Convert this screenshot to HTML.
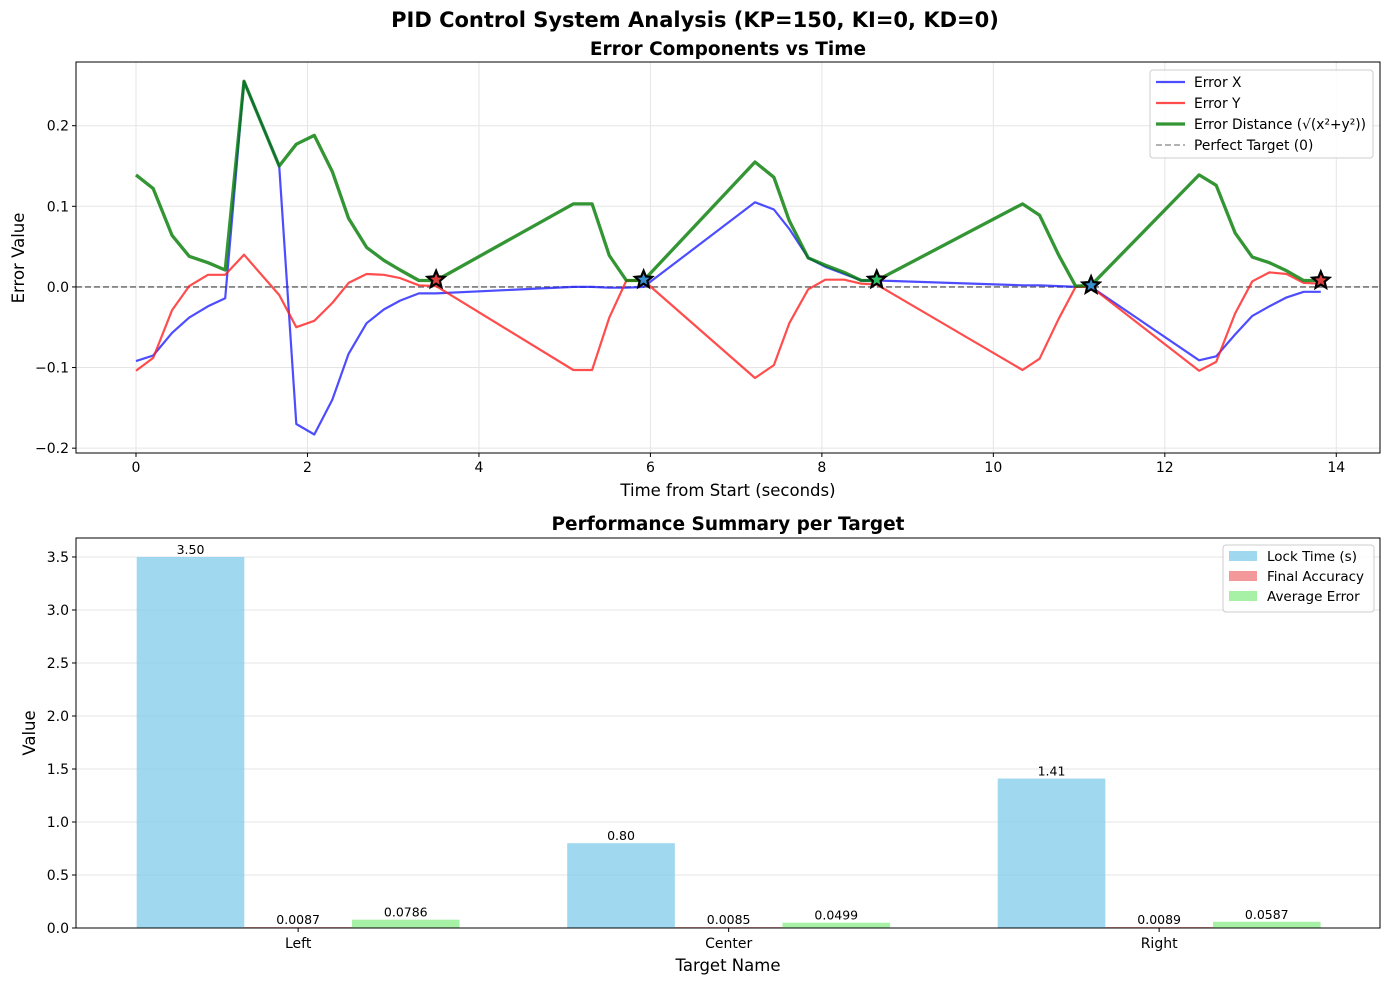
<!DOCTYPE html>
<html><head><meta charset="utf-8"><style>
body{margin:0;background:#fff;}
svg{font-family:"DejaVu Sans","Liberation Sans",sans-serif;}
</style></head><body>
<svg id="fig" width="1390" height="985" xmlns="http://www.w3.org/2000/svg">
<text x="695" y="27" text-anchor="middle" font-size="21" font-weight="bold">PID Control System Analysis (KP=150, KI=0, KD=0)</text>
<text x="728" y="55" text-anchor="middle" font-size="18.5" font-weight="bold">Error Components vs Time</text>
<text x="728" y="530" text-anchor="middle" font-size="18.5" font-weight="bold">Performance Summary per Target</text>
<g id="topchart"></g><g id="botchart"></g>
</svg>
<script>
const times=[0,0.2,0.42,0.62,0.84,1.04,1.26,1.67,1.87,2.08,2.29,2.48,2.69,2.89,3.08,3.3,3.5,5.1,5.32,5.52,5.72,5.92,7.22,7.44,7.62,7.84,8.04,8.26,8.46,8.64,10.34,10.54,10.76,10.96,11.14,12.4,12.6,12.82,13.02,13.22,13.42,13.62,13.82];
const errX=[-0.092,-0.085,-0.057,-0.038,-0.024,-0.014,0.255,0.150,-0.170,-0.183,-0.140,-0.083,-0.045,-0.028,-0.017,-0.008,-0.008,0.000,0.000,-0.001,-0.001,0.000,0.105,0.096,0.072,0.036,0.025,0.016,0.008,0.008,0.002,0.002,0.001,0.000,0.000,-0.091,-0.086,-0.059,-0.036,-0.024,-0.013,-0.006,-0.006];
const errY=[-0.104,-0.088,-0.029,0.001,0.015,0.015,0.040,-0.010,-0.050,-0.042,-0.020,0.005,0.016,0.015,0.011,0.002,0.001,-0.103,-0.103,-0.038,0.008,0.008,-0.113,-0.097,-0.045,-0.003,0.009,0.009,0.004,0.003,-0.103,-0.089,-0.040,0.000,0.000,-0.104,-0.093,-0.033,0.007,0.018,0.016,0.005,0.004];
const errD=[0.139,0.122,0.064,0.038,0.030,0.021,0.255,0.150,0.177,0.188,0.143,0.085,0.049,0.033,0.021,0.008,0.008,0.103,0.103,0.039,0.008,0.008,0.155,0.136,0.082,0.036,0.027,0.018,0.008,0.008,0.103,0.089,0.040,0.001,0.002,0.139,0.126,0.067,0.037,0.030,0.020,0.008,0.008];
const lockTimes=[3.5,5.92,8.64,11.14,13.82];
const lockVals=[0.009,0.009,0.009,0.002,0.008];
const lockColors=["#e04040","#3a8fd0","#30c060","#3a8fd0","#e04040"];
const xTicks=[0,2,4,6,8,10,12,14];
const yTicks=[-0.2,-0.1,0.0,0.1,0.2];
const targets=["Left","Center","Right"];
const lockTime=[3.50,0.80,1.41];
const finalAcc=[0.0087,0.0085,0.0089];
const avgErr=[0.0786,0.0499,0.0587];
const yTicks2=[0,0.5,1.0,1.5,2.0,2.5,3.0,3.5];
const NS="http://www.w3.org/2000/svg";
function mk(p,t,a,txt){const e=document.createElementNS(NS,t);for(const k in a)e.setAttribute(k,a[k]);if(txt!==undefined)e.textContent=txt;p.appendChild(e);return e;}
const T={l:76,r:1380,t:62,b:453,x0:-0.70,x1:14.51,y0:-0.206,y1:0.279};
const tx=v=>T.l+(v-T.x0)/(T.x1-T.x0)*(T.r-T.l);
const ty=v=>T.b-(v-T.y0)/(T.y1-T.y0)*(T.b-T.t);
const topG=document.getElementById('topchart');
xTicks.forEach(v=>{const x=tx(v);
 let g=mk(topG,'line',{x1:x,x2:x,y1:T.t,y2:T.b,stroke:'#e5e5e5','stroke-width':1});
 
 mk(topG,'line',{x1:x,x2:x,y1:T.b,y2:T.b+4,stroke:'#000'});
 let l=mk(topG,'text',{x:x,y:T.b+19,'text-anchor':'middle','font-size':14},String(v));
 });
yTicks.forEach(v=>{const y=ty(v);
 let g=mk(topG,'line',{x1:T.l,x2:T.r,y1:y,y2:y,stroke:'#e5e5e5','stroke-width':1});
 
 mk(topG,'line',{x1:T.l-4,x2:T.l,y1:y,y2:y,stroke:'#000'});
 let l=mk(topG,'text',{x:T.l-7,y:y+5,'text-anchor':'end','font-size':14},(v<0?'\u2212':'')+Math.abs(v).toFixed(1));
 });
let zl=mk(topG,'line',{x1:T.l,x2:T.r,y1:ty(0),y2:ty(0),stroke:'#000','stroke-opacity':0.5,'stroke-width':1.6,'stroke-dasharray':'6,3'});

function series(arr,color,w,name){const pts=times.map((t,i)=>tx(t).toFixed(1)+','+ty(arr[i]).toFixed(1)).join(' ');
 const p=mk(topG,'polyline',{points:pts,fill:'none',stroke:color,'stroke-width':w,'stroke-opacity':0.8,'stroke-linejoin':'round'});
 }
series(errX,'#2020ff',2.2,'error-x-line');
series(errY,'#ff2020',2.2,'error-y-line');
series(errD,'#007a00',3.3,'error-distance-line');
function starPts(cx,cy,R,r){let s=[];for(let i=0;i<10;i++){const a=-Math.PI/2+i*Math.PI/5;const rr=i%2?r:R;s.push((cx+rr*Math.cos(a)).toFixed(1)+','+(cy+rr*Math.sin(a)).toFixed(1));}return s.join(' ');}
lockTimes.forEach((t,i)=>{const s=mk(topG,'polygon',{points:starPts(tx(t),ty(lockVals[i]),9,4),fill:lockColors[i],stroke:'#000','stroke-width':2.2,'stroke-linejoin':'miter'});
 });
mk(topG,'rect',{x:T.l,y:T.t,width:T.r-T.l,height:T.b-T.t,fill:'none',stroke:'#000','stroke-width':1});
let xt=mk(topG,'text',{x:728,y:496,'text-anchor':'middle','font-size':16.5},'Time from Start (seconds)');

let yt=mk(topG,'text',{x:24,y:258,'text-anchor':'middle','font-size':16.5,transform:'rotate(-90 24 258)'},'Error Value');

const lg=mk(topG,'g',{});
mk(lg,'rect',{x:1150,y:70,width:223,height:88,rx:3,fill:'#fff','fill-opacity':0.85,stroke:'#ccc'});
[['Error X','#2020ff',2.2,''],['Error Y','#ff2020',2.2,''],['Error Distance (\u221a(x\u00b2+y\u00b2))','#007a00',3.3,''],['Perfect Target (0)','#808080',1.6,'6,3']].forEach((e,i)=>{const y=82+i*21;
 const ln=mk(lg,'line',{x1:1156,x2:1185,y1:y,y2:y,stroke:e[1],'stroke-width':e[2],'stroke-opacity':0.8});if(e[3])ln.setAttribute('stroke-dasharray',e[3]);
 const tt=mk(lg,'text',{x:1194,y:y+5,'font-size':13.8},e[0]);});
const B={l:76,r:1380,t:538,b:928,x0:-0.516,x1:2.513,y0:0,y1:3.679};
const bx=v=>B.l+(v-B.x0)/(B.x1-B.x0)*(B.r-B.l);
const by=v=>B.b-(v-B.y0)/(B.y1-B.y0)*(B.b-B.t);
const botG=document.getElementById('botchart');
yTicks2.forEach(v=>{const y=by(v);
 let g=mk(botG,'line',{x1:B.l,x2:B.r,y1:y,y2:y,stroke:'#e5e5e5'});
 mk(botG,'line',{x1:B.l-4,x2:B.l,y1:y,y2:y,stroke:'#000'});
 let l=mk(botG,'text',{x:B.l-7,y:y+5,'text-anchor':'end','font-size':14},v.toFixed(1));});
const w=0.25;
const sets=[[lockTime,'#87ceeb',-w,v=>v.toFixed(2),'lock-time-bar'],[finalAcc,'#f08080',0,v=>v.toFixed(4),'final-accuracy-bar'],[avgErr,'#90ee90',w,v=>v.toFixed(4),'average-error-bar']];
sets.forEach(s=>{s[0].forEach((v,i)=>{const x0=bx(i+s[2]-w/2),x1=bx(i+s[2]+w/2);
 const r=mk(botG,'rect',{x:x0,y:by(v),width:x1-x0,height:by(0)-by(v),fill:s[1],'fill-opacity':0.8});
 
 const t=mk(botG,'text',{x:(x0+x1)/2,y:by(v)-3,'text-anchor':'middle','font-size':12.5},s[3](v));
 });});
targets.forEach((n,i)=>{const x=bx(i);mk(botG,'line',{x1:x,x2:x,y1:B.b,y2:B.b+4,stroke:'#000'});
 const t=mk(botG,'text',{x:x,y:B.b+20,'text-anchor':'middle','font-size':14},n);});
mk(botG,'rect',{x:B.l,y:B.t,width:B.r-B.l,height:B.b-B.t,fill:'none',stroke:'#000'});
let bxt=mk(botG,'text',{x:728,y:971,'text-anchor':'middle','font-size':16.5},'Target Name');
let byt=mk(botG,'text',{x:35,y:733,'text-anchor':'middle','font-size':16.5,transform:'rotate(-90 35 733)'},'Value');
const lg2=mk(botG,'g',{});
mk(lg2,'rect',{x:1223,y:545,width:151,height:67,rx:3,fill:'#fff','fill-opacity':0.85,stroke:'#ccc'});
[['Lock Time (s)','#87ceeb'],['Final Accuracy','#f08080'],['Average Error','#90ee90']].forEach((e,i)=>{const y=556+i*20;
 mk(lg2,'rect',{x:1229,y:y-5,width:28,height:10,fill:e[1],'fill-opacity':0.8});
 const t=mk(lg2,'text',{x:1267,y:y+5,'font-size':13.5},e[0]);});
</script>
</body></html>
